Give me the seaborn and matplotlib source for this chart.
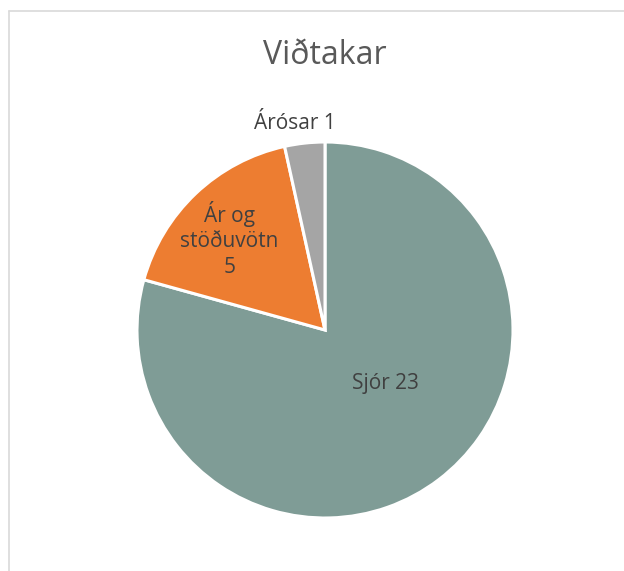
import matplotlib.pyplot as plt
import seaborn as sns
import numpy as np
from matplotlib.lines import Line2D

# gögn
flokkar = ["Sjór", "Ár og\nstöðuvötn", "Árósar"]
fjoldi = [23, 5, 1]
litir = ["#7f9c96", "#ed7d31", "#a5a5a5"]

sns.set_theme(style="white")
plt.rcParams["font.family"] = ["Open Sans", "DejaVu Sans"]

fig = plt.figure(figsize=(6.24, 5.71), dpi=100)
W, H = 624, 571
cx, cy, r = 325, 330, 188
ax = fig.add_axes([(cx - r) / W, (H - cy - r) / H, 2 * r / W, 2 * r / H])

wedges, _ = ax.pie(fjoldi, colors=litir, startangle=90, counterclock=False,
                   wedgeprops=dict(edgecolor="white", linewidth=2.2))
ax.set_xlim(-1, 1)
ax.set_ylim(-1, 1)
ax.axis("off")

# staðsetning merkja (fjarlægð frá miðju, hliðrun horns)
fjarl = [0.43, 0.70, 1.11]
hlidrun = [11, 3, 2]
for w, nafn, n, d, h in zip(wedges, flokkar, fjoldi, fjarl, hlidrun):
    a = np.deg2rad((w.theta1 + w.theta2) / 2 + h)
    texti = f"{nafn}\n{n}" if "\n" in nafn else f"{nafn} {n}"
    ax.text(d * np.cos(a), d * np.sin(a), texti,
            ha="center", va="center", fontsize=15, color="#404040",
            linespacing=1.3, clip_on=False)

fig.text(cx / W, 1 - 55 / H, "Viðtakar", ha="center", va="center",
         fontsize=23, color="#595959")

# rammi
fig.add_artist(Line2D([9 / W, 9 / W], [0, 1 - 11 / H], color="#d9d9d9", lw=1.2))
fig.add_artist(Line2D([9 / W, 1], [1 - 11 / H, 1 - 11 / H], color="#d9d9d9", lw=1.2))

fig.savefig("out.png", dpi=100)
